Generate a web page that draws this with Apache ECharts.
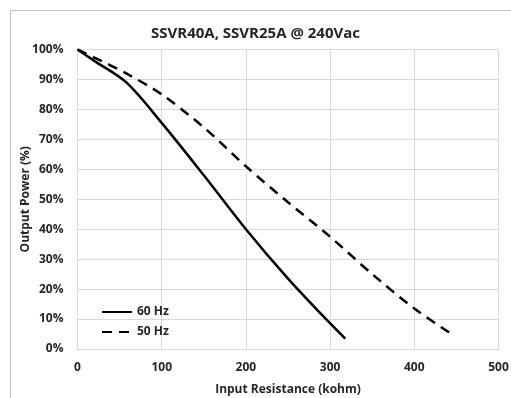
<!DOCTYPE html>
<html>
<head>
<meta charset="utf-8">
<script src="https://cdn.jsdelivr.net/npm/echarts@6/dist/echarts.min.js"></script>
<style>
  html, body { margin: 0; padding: 0; background: #fff; }
  #chart { width: 511px; height: 398px; }
</style>
</head>
<body>
<div id="chart"></div>
<script>
const TITLE = 'SSVR40A, SSVR25A @ 240Vac'
const X_NAME = 'Input Resistance (kohm)'
const Y_NAME = 'Output Power (%)'

// [resistance kohm, output power %]
const hz60 = [
  [0, 100], [20, 96.2], [58, 89], [100, 75.5], [150, 58],
  [200, 40], [250, 23.5], [290, 11.5], [318, 3.5],
]
const hz50 = [
  [0, 100], [20, 97.3], [58, 92], [100, 85], [150, 74],
  [200, 61], [250, 49], [300, 37.5], [350, 25], [400, 13.5], [447, 4.5],
]

const FONT = 'Open Sans'
const TEXT = '#262626'

const chart = echarts.init(document.getElementById('chart'))

const axisLabel = { color: TEXT, fontFamily: FONT, fontWeight: 'bold', fontSize: 12 }
const gridLine = { lineStyle: { color: '#d9d9d9', width: 1 } }

chart.setOption({
  animation: false,
  title: {
    text: TITLE,
    left: 'center',
    top: 21,
    textStyle: { color: TEXT, fontFamily: FONT, fontWeight: 'bold', fontSize: 15 },
  },
  graphic: [
    {
      type: 'rect',
      shape: { x: 10.5, y: 10.5, width: 520, height: 420 },
      style: { fill: 'none', stroke: '#bfbfbf', lineWidth: 1 },
      silent: true,
    },
  ],
  legend: {
    orient: 'vertical',
    left: 96,
    top: 301,
    itemWidth: 30,
    itemHeight: 14,
    itemGap: 8,
    itemStyle: { color: 'rgba(0,0,0,0)', borderWidth: 0, opacity: 0 },
    textStyle: { color: TEXT, fontFamily: FONT, fontWeight: 'bold', fontSize: 12 },
    data: ['60 Hz', '50 Hz'],
  },
  grid: {
    left: 77.5, right: 12.5, top: 49.5, bottom: 49,
    containLabel: false, outerBoundsMode: 'none',
  },
  xAxis: {
    type: 'value',
    min: 0,
    max: 500,
    interval: 100,
    name: X_NAME,
    nameLocation: 'middle',
    nameGap: 35,
    nameMoveOverlap: false,
    nameTextStyle: axisLabel,
    axisLine: { show: true, lineStyle: { color: '#d9d9d9' } },
    axisTick: { show: false },
    axisLabel: { ...axisLabel, margin: 13 },
    splitLine: gridLine,
  },
  yAxis: {
    type: 'value',
    min: 0,
    max: 100,
    interval: 10,
    name: Y_NAME,
    nameLocation: 'middle',
    nameGap: 46,
    nameMoveOverlap: false,
    nameTextStyle: axisLabel,
    axisLine: { show: true, lineStyle: { color: '#d9d9d9' } },
    axisTick: { show: false },
    axisLabel: { ...axisLabel, margin: 14, formatter: '{value}%' },
    splitLine: gridLine,
  },
  series: [
    {
      name: '60 Hz',
      type: 'line',
      data: hz60,
      smooth: 0.3,
      symbol: 'none',
      lineStyle: { color: '#000', width: 2.5 },
      itemStyle: { color: '#000' },
    },
    {
      name: '50 Hz',
      type: 'line',
      data: hz50,
      smooth: 0.3,
      symbol: 'none',
      lineStyle: { color: '#000', width: 2.5, type: [10, 7] },
      itemStyle: { color: '#000' },
    },
  ],
})
</script>
</body>
</html>
